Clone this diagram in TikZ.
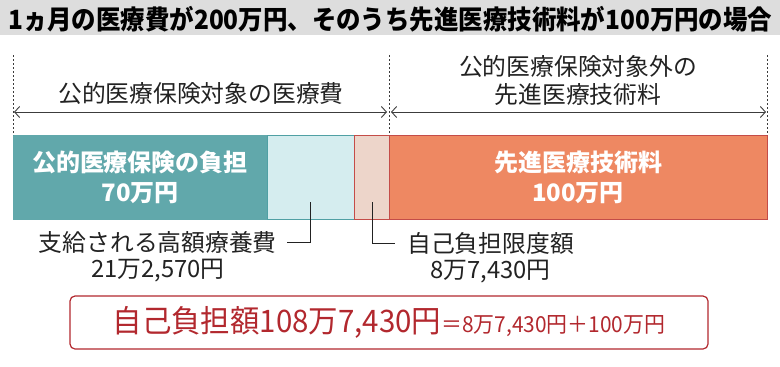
\documentclass[tikz,border=0pt]{standalone}
\usepackage{fontspec}
\usepackage{graphicx}
\setmainfont{Noto Sans CJK JP}
\usetikzlibrary{positioning,arrows.meta}

\definecolor{titlegray}{RGB}{221,221,221}
\definecolor{textgray}{RGB}{34,34,34}
\definecolor{arrowgray}{RGB}{60,60,60}
\definecolor{tealbar}{RGB}{97,168,171}
\definecolor{tealline}{RGB}{80,160,164}
\definecolor{lightteal}{RGB}{213,237,239}
\definecolor{palepink}{RGB}{237,213,202}
\definecolor{orangebar}{RGB}{238,136,98}
\definecolor{redline}{RGB}{196,76,72}
\definecolor{darkred}{RGB}{178,40,46}

\begin{document}
\begin{tikzpicture}[x=1pt,y=-1pt,
    txt/.style={font=\fontsize{23.8}{28}\selectfont,text=textgray,inner sep=0pt,align=center},
    bar/.style={minimum height=84pt,inner sep=0pt,outer sep=0pt,line width=1pt,
      font=\bfseries\fontsize{24}{30}\selectfont,text=white,align=center},
    dimline/.style={<->,>={Straight Barb[length=5pt,width=11pt]},line width=0.9pt,draw=arrowgray},
    guide/.style={dash pattern=on 2pt off 2pt,line width=0.6pt,draw=arrowgray},
    leader/.style={line width=0.8pt,draw=textgray}]
  \useasboundingbox (0,0) rectangle (780,367);
  \fill[titlegray] (0,0) rectangle (780,35);
  \node[anchor=west,inner sep=0pt] (title) at (8,19)
    {\resizebox{764pt}{\height}{\bfseries\fontsize{26.5}{30}\selectfont 1ヵ月の医療費が200万円、そのうち先進医療技術料が100万円の場合}};

  \node[bar,draw=tealbar,fill=tealbar,minimum width=254pt,anchor=north west] (public) at (13,135) {公的医療保険の負担\\70万円};
  \node[bar,draw=tealline,fill=lightteal,minimum width=87pt,right=0pt of public] (benefitbar) {};
  \node[bar,draw=redline,fill=palepink,minimum width=35pt,right=0pt of benefitbar] (limitbar) {};
  \node[bar,draw=redline,fill=orangebar,minimum width=378pt,right=0pt of limitbar] (advanced) {先進医療技術料\\100万円};

  \coordinate (g1) at (13,55);
  \coordinate (g2) at (389,55);
  \coordinate (g3) at (767,55);
  \draw[guide] (g1) -- (public.north west);
  \draw[guide] (g2) -- (limitbar.north east);
  \draw[guide] (g3) -- (advanced.north east);

  \coordinate (insL) at (14,112);
  \coordinate (insR) at (387,112);
  \coordinate (advL) at (391,112);
  \coordinate (advR) at (766,112);
  \draw[dimline] (insL) -- (insR);
  \draw[dimline] (advL) -- (advR);
  \node[txt] (inslbl) at (201,93) {公的医療保険対象の医療費};
  \node[txt] (advlbl) at (578,80) {公的医療保険対象外の\\先進医療技術料};

  \coordinate (bp) at (310,202);
  \node[txt,anchor=east] (benefit) at (277,242) {支給される高額療養費};
  \node[txt,below=6pt of benefit] (benefitamt) {21万2,570円};
  \draw[leader] (bp) |- ([xshift=10pt]benefit.east);

  \coordinate (lp) at (372,202);
  \node[txt,anchor=west] (limit) at (407,243) {自己負担限度額};
  \node[txt,below=6pt of limit] (limitamt) {8万7,430円};
  \draw[leader] (lp) |- ([xshift=-12pt]limit.west);

  \node[draw=darkred,line width=1.2pt,rounded corners=5pt,minimum width=638pt,minimum height=53pt,
    text=darkred,inner sep=0pt] (total) at (389,322.5)
    {\scalebox{0.95}[1]{\fontsize{31}{34}\selectfont 自己負担額108万7,430円}\scalebox{0.95}[1]{\fontsize{22}{24}\selectfont ＝8万7,430円＋100万円}};
\end{tikzpicture}
\end{document}
